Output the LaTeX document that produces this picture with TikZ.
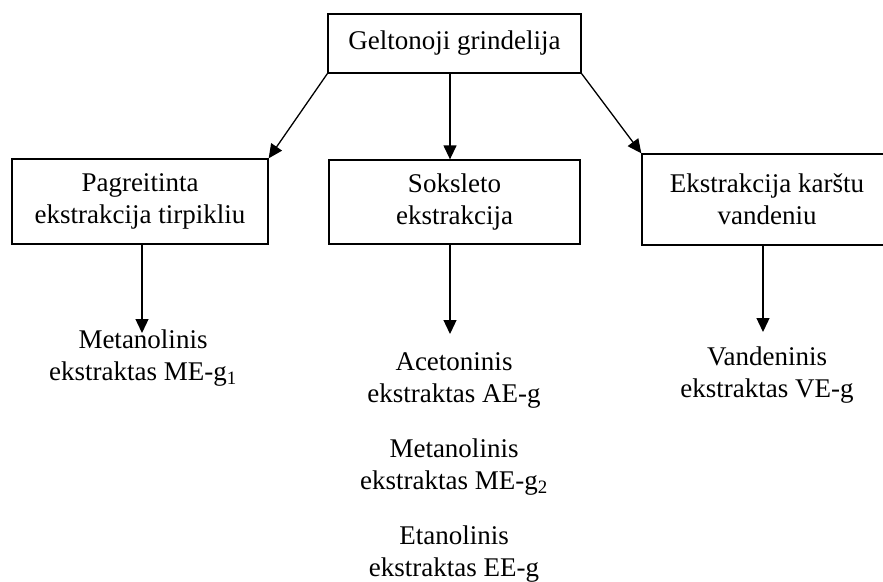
\documentclass[tikz,border=0pt]{standalone}
\usepackage{fontspec}
\setmainfont{Liberation Serif}
\usetikzlibrary{arrows.meta}
\begin{document}
\begin{tikzpicture}[x=1pt,y=-1pt,
  box/.style={draw,line width=1.3pt,inner sep=0pt,align=center,font=\fontsize{27}{32}\selectfont},
  lbl/.style={inner sep=0pt,align=center,font=\fontsize{27}{32}\selectfont},
  arr/.style={line width=1.3pt,-{Triangle[length=14pt,width=13pt]}}]
\useasboundingbox (0,0) rectangle (883,581);
\clip (0,0) rectangle (883,581);
% boxes
\node[box,minimum width=253pt,minimum height=59pt] (top) at (454.5,43.5) {Geltonoji grindelija};
\node[box,minimum width=256pt,minimum height=85pt] (b1) at (140,201.5) {Pagreitinta\\ekstrakcija tirpikliu};
\node[box,minimum width=251pt,minimum height=84pt] (b2) at (454.5,202) {Soksleto\\ekstrakcija};
\node[box,minimum width=250pt,minimum height=91pt] (b3) at (767,199.5) {Ekstrakcija karštu\\vandeniu};
% results
\node[lbl] (me1) at (143,357.75) {Metanolinis\\ekstraktas ME-g\textsubscript{1}};
\node[lbl] (ae) at (454,380.75) {Acetoninis\\ekstraktas AE-g};
\node[lbl] (me2) at (454,466.75) {Metanolinis\\ekstraktas ME-g\textsubscript{2}};
\node[lbl] (ee) at (454,553.75) {Etanolinis\\ekstraktas EE-g};
\node[lbl] (ve) at (767,374.75) {Vandeninis\\ekstraktas VE-g};
% arrow tip points
\coordinate (t1) at (142,333);
\coordinate (t2) at (450,334);
\coordinate (t3) at (763,332);
% connectors
\draw[arr] (top.south west) -- (b1.north east);
\draw[arr] (top.south -| t2) -- (b2.north -| t2);
\draw[arr] (top.south east) -- (b3.north west);
\draw[arr] (b1.south -| t1) -- (t1);
\draw[arr] (b2.south -| t2) -- (t2);
\draw[arr] (b3.south -| t3) -- (t3);
\end{tikzpicture}
\end{document}
